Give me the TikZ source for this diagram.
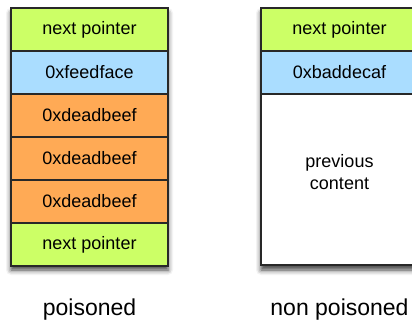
\documentclass[tikz,border=0pt]{standalone}
\usepackage{fontspec}
\setmainfont{Liberation Sans}
\usetikzlibrary{shadows.blur}
\definecolor{cellgreen}{RGB}{204,255,102}
\definecolor{cellblue}{RGB}{170,221,255}
\definecolor{cellorange}{RGB}{255,170,85}
\definecolor{edge}{RGB}{40,40,40}
\tikzset{
  cell/.style={draw=edge, line width=1.1pt, minimum width=157pt, minimum height=43pt,
    inner sep=0pt, outer sep=0pt, anchor=north, font=\fontsize{18pt}{22pt}\selectfont, align=center},
  lbl/.style={font=\fontsize{23pt}{27pt}\selectfont, anchor=base},
  shade box/.style={fill=white, blur shadow={shadow xshift=0pt, shadow yshift=-5pt,
    shadow blur radius=5pt, shadow opacity=75}}
}
\begin{document}
\begin{tikzpicture}[x=1pt,y=-1pt]
\useasboundingbox (0,0) rectangle (412,322);
\clip (0,0) rectangle (412,322);
% shadows
\path[shade box] (11,8) rectangle (168,265);
\path[shade box] (261,8) rectangle (418,265);
% left column
\node[cell, fill=cellgreen] (l1) at (89.5,8) {next pointer};
\node[cell, fill=cellblue] (l2) at (l1.south) {0xfeedface};
\node[cell, fill=cellorange] (l3) at (l2.south) {0xdeadbeef};
\node[cell, fill=cellorange] (l4) at (l3.south) {0xdeadbeef};
\node[cell, fill=cellorange] (l5) at (l4.south) {0xdeadbeef};
\node[cell, fill=cellgreen] (l6) at (l5.south) {next pointer};
% right column
\node[cell, fill=white, minimum height=171pt] (r3) at (339.5,94) {previous\\content\\[-6pt]};
\node[cell, fill=cellgreen] (r1) at (339.5,8) {next pointer};
\node[cell, fill=cellblue] (r2) at (r1.south) {0xbaddecaf};
% labels
\node[lbl] (lp) at (89.5,315) {poisoned};
\node[lbl] (lnp) at (339.5,315) {non poisoned};
\end{tikzpicture}
\end{document}
